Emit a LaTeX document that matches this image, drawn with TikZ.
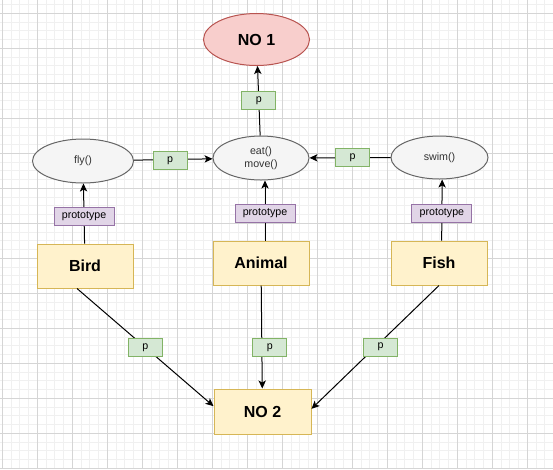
\documentclass[tikz,border=0pt]{standalone}
\usepackage{fontspec}
\setmainfont{Liberation Sans}
\usetikzlibrary{arrows.meta, positioning, shapes.geometric}
\definecolor{redA}{HTML}{B85450}
\definecolor{redB}{HTML}{F8CECC}
\definecolor{yellowA}{HTML}{D6B656}
\definecolor{yellowB}{HTML}{FFF2CC}
\definecolor{greenA}{HTML}{82B366}
\definecolor{greenB}{HTML}{D5E8D4}
\definecolor{violetA}{HTML}{9673A6}
\definecolor{violetB}{HTML}{E1D5E7}
\definecolor{grayA}{HTML}{666666}
\definecolor{grayB}{HTML}{F5F5F5}
\definecolor{grayT}{HTML}{333333}
\definecolor{gridA}{HTML}{D5D5D5}
\definecolor{gridB}{HTML}{F0F0F0}
\tikzset{
  goal/.style={
    ellipse, draw=redA, fill=redB, line width=0.75pt, inner sep=0pt,
    minimum width=79.5pt, minimum height=39pt,
    font=\fontsize{12}{14}\selectfont\bfseries
  },
  method/.style={
    ellipse, draw=grayA, fill=grayB, text=grayT, line width=0.75pt,
    inner sep=0pt, minimum width=72pt, minimum height=33pt, align=center,
    font=\fontsize{8}{9.5}\selectfont
  },
  cls/.style={
    draw=yellowA, fill=yellowB, line width=0.75pt, inner sep=0pt,
    minimum width=72pt, minimum height=33pt,
    font=\fontsize{12}{14}\selectfont\bfseries
  },
  plabel/.style={
    draw=greenA, fill=greenB, line width=0.75pt, inner sep=0pt,
    minimum width=25.5pt, minimum height=13.5pt,
    font=\fontsize{8}{9}\selectfont
  },
  protolabel/.style={
    draw=violetA, fill=violetB, line width=0.75pt, inner sep=0pt,
    minimum width=45pt, minimum height=13.5pt,
    font=\fontsize{8}{9}\selectfont
  },
  arrow/.style={-{Stealth[length=6pt, width=5.5pt, inset=1.5pt]}, line width=0.75pt},
  gridminor/.style={draw=gridB, line width=0.75pt},
  gridmajor/.style={draw=gridA, line width=0.75pt}
}

\begin{document}
\begin{tikzpicture}[x=0.75pt, y=-0.75pt]
  % page and grid
  \useasboundingbox (0,0) rectangle (553,469);
  \fill[white] (0,0) rectangle (553,469);
  \foreach \i in {0,...,63}
    \draw[gridminor] ({2.3+8.75*\i},0) -- ({2.3+8.75*\i},469);
  \foreach \i in {0,...,53}
    \draw[gridminor] (0,{4.55+8.75*\i}) -- (553,{4.55+8.75*\i});
  \foreach \i in {0,...,15}
    \draw[gridmajor] ({2.3+35*\i},0) -- ({2.3+35*\i},469);
  \foreach \i in {0,...,13}
    \draw[gridmajor] (0,{13.3+35*\i}) -- (553,{13.3+35*\i});

  % nodes
  \node[goal] (no1) at (256.5,39.5) {NO 1};
  \node[method, minimum width=75.75pt] (fly) at (83,161) {fly()};
  \node[method] (eat) at (261,158) {eat()\\move()};
  \node[method, minimum width=72.75pt, minimum height=32.25pt] (swim) at (439.5,157.5) {swim()};
  \node[cls] (bird) at (85,266) {Bird};
  \node[cls] (animal) at (261,263) {Animal};
  \node[cls] (fish) at (439,263) {Fish};
  \node[cls, minimum width=72.75pt, minimum height=33.75pt] (no2) at (262.5,411.5) {NO 2};

  % prototype links
  \draw[arrow] (bird) -- node[protolabel, pos=0.45] (pbird) {prototype} (fly);
  \draw[arrow] ([xshift=3pt]animal.north) -- node[protolabel, pos=0.45] (panimal) {prototype} ([xshift=3pt]eat.south);
  \draw[arrow] ([xshift=2pt]fish.north) -- node[protolabel, pos=0.45] (pfish) {prototype} ([xshift=2pt]swim.south);

  % p links
  \draw[arrow] (fly) -- node[plabel, pos=0.46, yshift=-1pt] (pfly) {p} (eat);
  \draw[arrow] (swim) -- node[plabel, xshift=2pt] (pswim) {p} (eat);
  \draw[arrow] (eat) -- node[plabel] (peat) {p} (no1);
  \draw[arrow] ([xshift=-6pt]bird.south) -- node[plabel] (pbirdno) {p} ([yshift=4pt]no2.west);
  \draw[arrow] (animal) -- node[plabel, pos=0.6, xshift=6pt] (panimalno) {p} (no2);
  \draw[arrow] (fish.south) -- node[plabel, xshift=4pt] (pfishno) {p} ([yshift=2pt]no2.east);
\end{tikzpicture}
\end{document}
